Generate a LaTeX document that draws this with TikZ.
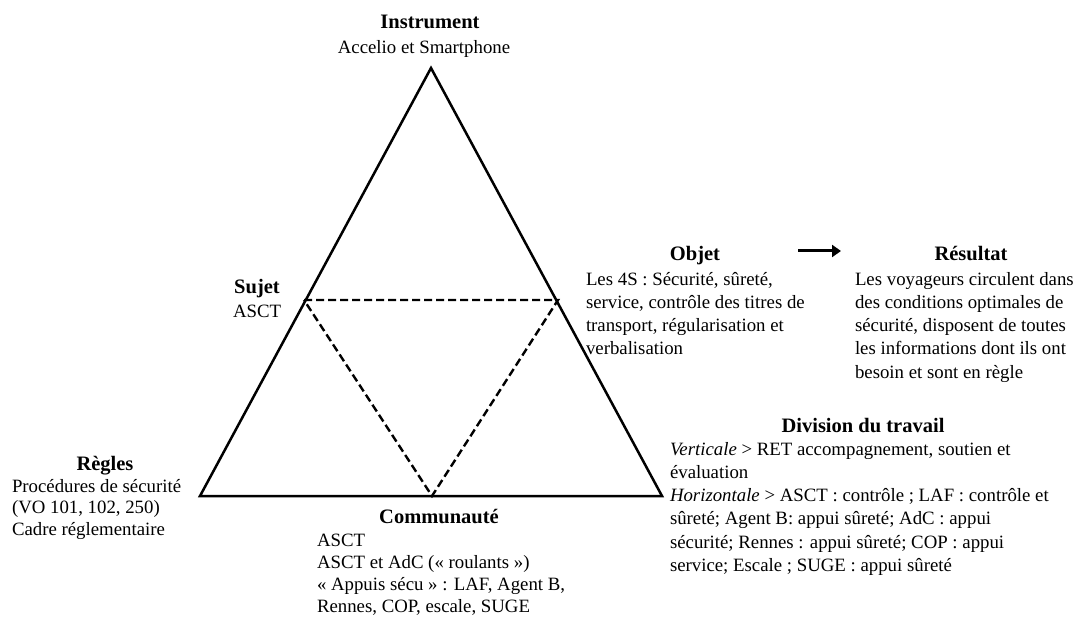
\documentclass[tikz,border=0pt]{standalone}
\usepackage{fontspec}
\setmainfont{Liberation Serif}
\usetikzlibrary{arrows.meta}
\newcommand\firstrule{\rule{0pt}{15bp}}
\tikzset{
  txt/.style={inner sep=0pt, outer sep=0pt, anchor=north west, align=left, font=\fontsize{18.8bp}{#1}\selectfont},
  txt/.default={23.3bp},
  line/.style={inner sep=0pt, outer sep=0pt, anchor=base, font=\fontsize{18.8bp}{22bp}\selectfont},
  head/.style={inner sep=0pt, outer sep=0pt, anchor=base, font=\fontsize{20.5bp}{24bp}\selectfont\bfseries},
  solidline/.style={line width=2.5bp, line join=miter},
  dashline/.style={line width=2.4bp, dash pattern=on 8bp off 4bp},
}
\begin{document}
\begin{tikzpicture}[x=1bp,y=-1bp]
\useasboundingbox (0,0) rectangle (1076,621);
% triangle
\coordinate (A) at (431,68);
\coordinate (L) at (200,496);
\coordinate (R) at (662,496);
\draw[solidline] (A) -- (L) -- (R) -- cycle;
\coordinate (DL) at (304,300);
\coordinate (DR) at (558,300);
\coordinate (DB) at (432,496);
\draw[dashline] (DL) -- (DR) -- (DB) -- cycle;
% Instrument
\node[head] (instH) at (430,29) {Instrument};
\node[line] (instB) at (424,54) {Accelio et Smartphone};
% Sujet
\node[head] (sujH) at (257,294) {Sujet};
\node[txt] (sujB) at (233,317-15) {\firstrule ASCT};
% Objet
\node[head] (objH) at (695,261) {Objet};
\node[txt] (objB) at (586,285-15) {\firstrule Les 4S : Sécurité, sûreté,\\service, contrôle des titres de\\transport, régularisation et\\verbalisation};
% Resultat
\node[head] (resH) at (971,261) {Résultat};
\node[txt] (resB) at (855,285-15) {\firstrule Les voyageurs circulent dans\\des conditions optimales de\\sécurité, disposent de toutes\\les informations dont ils ont\\besoin et sont en règle};
\coordinate (a1) at (798,251);
\coordinate (a2) at (841,251);
\draw[line width=3bp, -{Triangle[length=9bp,width=12bp]}] (a1) -- (a2);
% Division du travail
\node[head] (divH) at (863,432) {Division du travail};
\node[txt] (divB) at (670,455-15) {\firstrule\textit{Verticale} > RET accompagnement, soutien et\\évaluation\\\textit{Horizontale} > ASCT : contrôle ; LAF : contrôle et\\sûreté; Agent B: appui sûreté; AdC : appui\\sécurité; Rennes : appui sûreté; COP : appui\\service; Escale ; SUGE : appui sûreté};
% Regles
\node[head] (regH) at (105,470) {Règles};
\node[txt=21.5bp] (regB) at (12,492-15) {\firstrule Procédures de sécurité\\(VO 101, 102, 250)\\Cadre réglementaire};
% Communaute
\node[head] (comH) at (439,523) {Communauté};
\node[txt=22bp] (comB) at (317,546-15) {\firstrule ASCT\\ASCT et AdC (« roulants »)\\« Appuis sécu » : LAF, Agent B,\\Rennes, COP, escale, SUGE};
\end{tikzpicture}
\end{document}
